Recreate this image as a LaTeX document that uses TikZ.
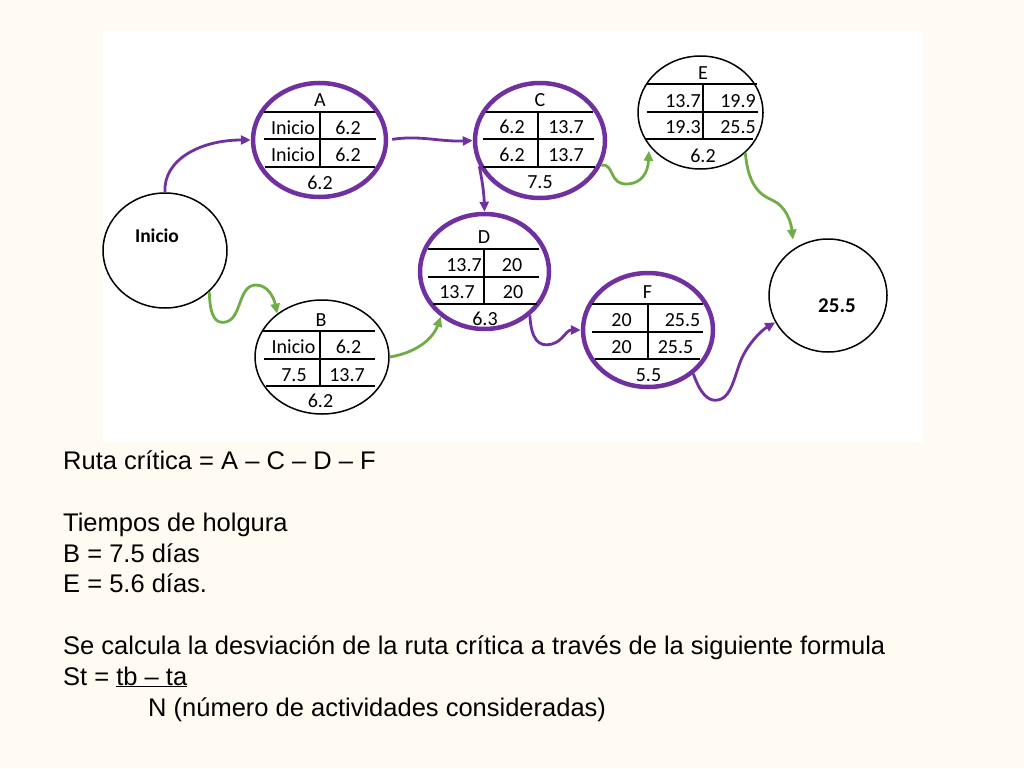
\documentclass[tikz,border=0pt]{standalone}
\usepackage{fontspec}
\setmainfont{Liberation Sans}
\newfontfamily\calib{Carlito}
\usetikzlibrary{shapes.geometric,arrows.meta,calc}
\definecolor{cpmpurple}{RGB}{112,48,160}
\definecolor{cpmgreen}{RGB}{112,173,71}
\definecolor{cream}{RGB}{255,251,242}
\begin{document}
\begin{tikzpicture}[x=1pt,y=-1pt,
  evt/.style={ellipse, draw, inner sep=0pt, fill=white},
  thinev/.style={evt, line width=1.5pt, draw=black},
  critev/.style={evt, line width=4.5pt, draw=cpmpurple},
  cell/.style={anchor=base, inner sep=0pt, font=\calib\fontsize{20}{21}\selectfont},
  boldcell/.style={anchor=base, inner sep=0pt, font=\calib\bfseries\fontsize{19.5}{20}\selectfont},
  tabline/.style={line width=2pt, black},
  critarrow/.style={line width=2.8pt, cpmpurple, -{Triangle[length=10pt,width=9pt]}},
  slackarrow/.style={line width=2.8pt, cpmgreen, -{Triangle[length=10pt,width=9pt]}},
  txt/.style={anchor=base west, inner sep=0pt, font=\fontsize{25.5}{30}\selectfont}
]
\useasboundingbox (0,0) rectangle (1024,768);
\fill[cream] (0,0) rectangle (1024,768);
\fill[white] (103,31) rectangle (923,442);

% event nodes
\node[thinev, minimum width=124pt, minimum height=115pt] (ini) at (165,250.5) {};
\node[critev, minimum width=133pt, minimum height=114pt] (A) at (319.5,140) {};
\node[critev, minimum width=130pt, minimum height=115pt] (C) at (540,140.5) {};
\node[thinev, minimum width=125pt, minimum height=113pt] (E) at (700.5,112.5) {};
\node[critev, minimum width=129pt, minimum height=115pt] (D) at (484.5,271.5) {};
\node[thinev, minimum width=134pt, minimum height=114pt] (B) at (322,357) {};
\node[critev, minimum width=130pt, minimum height=114pt] (F) at (648,330) {};
\node[thinev, minimum width=118pt, minimum height=113pt] (fin) at (828,295.5) {};

% table lines
\draw[tabline] (264,112) -- (375,112) (264,139) -- (376,139) (265,167) -- (375,167) (320,112) -- (320,167);
\draw[tabline] (486,112) -- (593,112) (483,139) -- (594,139) (483,167) -- (595,167) (538,112) -- (538,167);
\draw[tabline] (647,84) -- (757,84) (647,112) -- (758,112) (646,139) -- (753,139) (703,84) -- (703,139);
\draw[tabline] (428,249) -- (539,249) (428,277) -- (539,277) (433,304) -- (537,304) (484,249) -- (484,304);
\draw[tabline] (263,331) -- (375,331) (264,359) -- (375,359) (266,386) -- (375,386) (320,331) -- (320,386);
\draw[tabline] (592,304) -- (703,304) (592,332) -- (703,332) (595,359) -- (700,359) (648,304) -- (648,359);

% texts A
\node[cell] (At) at (320,106) {A};
\node[cell] (Aa) at (293,134) {Inicio};
\node[cell] (Ab) at (348,134) {6.2};
\node[cell] (Ac) at (293,161) {Inicio};
\node[cell] (Ad) at (348,161) {6.2};
\node[cell] (Ae) at (320,189) {6.2};
% texts C
\node[cell] (Ct) at (540,106) {C};
\node[cell] (Ca) at (512,133) {6.2};
\node[cell] (Cb) at (566,133) {13.7};
\node[cell] (Cc) at (512,161) {6.2};
\node[cell] (Cd) at (566,161) {13.7};
\node[cell] (Ce) at (540,188) {7.5};
% texts E
\node[cell] (Et) at (703,79) {E};
\node[cell] (Ea) at (683,107) {13.7};
\node[cell] (Eb) at (738,107) {19.9};
\node[cell] (Ec) at (683,133) {19.3};
\node[cell] (Ed) at (738,133) {25.5};
\node[cell] (Ee) at (703,162) {6.2};
% texts D
\node[cell] (Dt) at (484,243) {D};
\node[cell] (Da) at (464,271) {13.7};
\node[cell] (Db) at (512,271) {20};
\node[cell] (Dc) at (457,298) {13.7};
\node[cell] (Dd) at (513,298) {20};
\node[cell] (De) at (485,325) {6.3};
% texts B
\node[cell] (Bt) at (321,326) {B};
\node[cell] (Ba) at (293.5,353) {Inicio};
\node[cell] (Bb) at (348.5,353) {6.2};
\node[cell] (Bc) at (294,381) {7.5};
\node[cell] (Bd) at (347,381) {13.7};
\node[cell] (Be) at (320.5,407) {6.2};
% texts F
\node[cell] (Ft) at (647.5,298) {F};
\node[cell] (Fa) at (621.5,326) {20};
\node[cell] (Fb) at (682.5,326) {25.5};
\node[cell] (Fc) at (621.5,353) {20};
\node[cell] (Fd) at (675.5,353) {25.5};
\node[cell] (Fe) at (648.5,381) {5.5};
% start / end labels
\node[boldcell] (inilabel) at (157,242) {Inicio};
\node[boldcell, font=\calib\bfseries\fontsize{21}{22}\selectfont] (finlabel) at (837,312) {25.5};

% connectors
\draw[critarrow] (ini.north) .. controls (163,160) and (200,140) .. (A.west);
\draw[critarrow, shorten <=4pt] (A.east) .. controls (420,135) and (440,142) .. (C.west);
\draw[critarrow] (C.203) .. controls (483,185) and (484,195) .. (D.north);
\draw[slackarrow, shorten >=5pt] (C.338) .. controls (615,163) and (608,185) .. (628,184) .. controls (642,183) and (648,172) .. (E.213);
\draw[slackarrow, shorten >=9pt] (E.318) .. controls (748,185) and (760,195) .. (772,200) .. controls (786,206) and (791,222) .. (fin.126);
\draw[slackarrow] (ini.317) .. controls (210,318) and (216,324) .. (226,322) .. controls (242,318) and (238,285) .. (256,285) .. controls (268,285) and (274,298) .. (B.136);
\draw[slackarrow] (B.east) .. controls (420,352) and (434,336) .. (D.226);
\draw[critarrow] (D.316) .. controls (531,338) and (538,348) .. (552,344) .. controls (563,341) and (566,330) .. (F.west);
\draw[critarrow] (F.316) .. controls (700,393) and (708,402) .. (718,400) .. controls (734,397) and (735,368) .. (745,352) .. controls (752,340) and (762,330) .. (fin.207);

% bottom text
\node[txt] (t1) at (63,469) {Ruta crítica = A – C – D – F};
\node[txt] (t2) at (63,531) {Tiempos de holgura};
\node[txt] (t3) at (63,562) {B = 7.5 días};
\node[txt] (t4) at (63,592) {E = 5.6 días.};
\node[txt] (t5) at (63,654) {Se calcula la desviación de la ruta crítica a través de la siguiente formula};
\node[txt] (t6) at (63,685) {St = \underline{tb – ta}};
\node[txt] (t7) at (148,716) {N (número de actividades consideradas)};
\end{tikzpicture}
\end{document}
